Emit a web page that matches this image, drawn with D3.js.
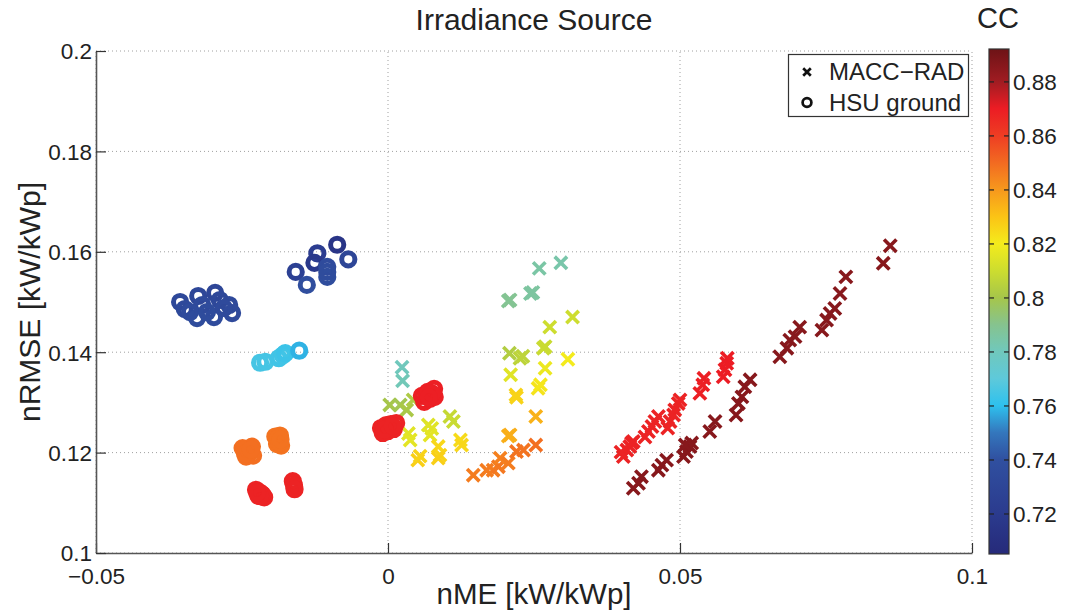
<!DOCTYPE html>
<html>
<head>
<meta charset="utf-8">
<script src="https://cdn.jsdelivr.net/npm/d3@7"></script>
<style>
  body { margin: 0; background: #fff; }
  svg { display: block; font-family: "Liberation Sans", Arial, sans-serif; }
</style>
</head>
<body>
<svg id="chart" width="1067" height="616"></svg>
<script>
// MACC-RAD (crosses): nME, nRMSE, correlation coefficient
const macX = [0.0024,0.0025,0.0259,0.0296,0.0244,0.0248,0.0206,0.0209,
  0.0003,0.0021,0.0032,0.0043,0.0208,0.0226,0.0231,0.0266,0.0269,0.0277,0.0316,0.0106,0.0112,
  0.0035,0.0038,0.0069,0.0075,0.0072,0.0210,0.0269,0.0308,0.0257,0.0261,
  0.0051,0.0055,0.0086,0.0089,0.0086,0.0124,0.0126,0.0219,0.0220,
  0.0253,0.0206,0.0209,
  0.0146,0.0169,0.0180,0.0189,0.0192,0.0206,0.0220,0.0232,0.0253,
  0.0409,0.0414,0.0403,0.0417,0.0420,0.0399,
  0.0446,0.0452,0.0457,0.0463,0.0440,
  0.0483,0.0489,0.0491,0.0497,0.0500,0.0479,
  0.0534,0.0539,0.0541,
  0.0574,0.0577,0.0580,0.0581,
  0.0420,0.0429,0.0434,0.0463,0.0469,0.0477,
  0.0506,0.0511,0.0517,0.0520,0.0509,0.0551,0.0560,
  0.0596,0.0600,0.0606,0.0611,0.0620,
  0.0671,0.0683,0.0688,0.0697,0.0705,
  0.0743,0.0751,0.0757,0.0765,0.0774,0.0784,
  0.0848,0.0860];
const macY = [0.1370,0.1343,0.1567,0.1578,0.1517,0.1519,0.1502,0.1504,
  0.1295,0.1295,0.1285,0.1305,0.1398,0.1388,0.1392,0.1408,0.1411,0.1450,0.1470,0.1272,0.1262,
  0.1238,0.1225,0.1255,0.1248,0.1235,0.1355,0.1368,0.1386,0.1328,0.1335,
  0.1185,0.1193,0.1212,0.1195,0.1189,0.1225,0.1215,0.1315,0.1310,
  0.1272,0.1233,0.1235,
  0.1155,0.1165,0.1165,0.1172,0.1189,0.1179,0.1202,0.1205,0.1215,
  0.1205,0.1212,0.1192,0.1219,0.1222,0.1201,
  0.1242,0.1252,0.1262,0.1272,0.1231,
  0.1262,0.1275,0.1285,0.1298,0.1305,0.1249,
  0.1318,0.1335,0.1348,
  0.1351,0.1365,0.1378,0.1388,
  0.1129,0.1139,0.1152,0.1165,0.1175,0.1185,
  0.1192,0.1202,0.1212,0.1219,0.1215,0.1242,0.1262,
  0.1275,0.1298,0.1311,0.1331,0.1345,
  0.1391,0.1408,0.1424,0.1431,0.1450,
  0.1444,0.1464,0.1477,0.1487,0.1517,0.1550,
  0.1577,0.1612];
const macCC = [0.780,0.781,0.785,0.784,0.786,0.786,0.789,0.789,
  0.800,0.799,0.801,0.802,0.803,0.806,0.806,0.809,0.809,0.810,0.810,0.808,0.809,
  0.815,0.816,0.814,0.815,0.816,0.815,0.818,0.820,0.822,0.821,
  0.827,0.826,0.825,0.826,0.827,0.824,0.825,0.826,0.826,
  0.834,0.835,0.835,
  0.846,0.846,0.846,0.847,0.845,0.846,0.848,0.848,0.849,
  0.868,0.868,0.868,0.868,0.868,0.868,
  0.868,0.868,0.868,0.868,0.868,
  0.868,0.868,0.868,0.868,0.868,0.868,
  0.869,0.869,0.869,
  0.870,0.870,0.870,0.870,
  0.886,0.886,0.886,0.886,0.886,0.886,
  0.886,0.886,0.886,0.886,0.886,0.886,0.886,
  0.886,0.886,0.886,0.886,0.886,
  0.886,0.886,0.886,0.886,0.886,
  0.886,0.886,0.886,0.886,0.886,0.886,
  0.886,0.886];

// HSU ground (circles)
const hsuX = [-0.0356,-0.0348,-0.0325,-0.0296,-0.0318,-0.0327,-0.0298,-0.0272,-0.0267,-0.0288,-0.0339,-0.0310,-0.0281,
  -0.0158,-0.0139,-0.0121,-0.0126,-0.0104,-0.0104,-0.0104,-0.0087,-0.0068,
  -0.0219,-0.0210,-0.0187,-0.0180,-0.0176,-0.0152,
  -0.0249,-0.0236,-0.0231,-0.0243,-0.0233,-0.0240,-0.0246,-0.0238,-0.0245,-0.0235,
  -0.0193,-0.0187,-0.0183,-0.0190,-0.0185,-0.0188,-0.0186,-0.0184,
  -0.0226,-0.0217,-0.0212,-0.0222,-0.0220,-0.0215,-0.0219,-0.0224,
  -0.0163,-0.0161,-0.0160,
  -0.0012,-0.0003,0.0005,0.0014,-0.0009,0.0000,0.0010,0.0002,-0.0006,0.0008,
  0.0058,0.0068,0.0079,0.0062,0.0072,0.0080,0.0066,0.0075,0.0070];
const hsuY = [0.1500,0.1486,0.1512,0.1518,0.1494,0.1468,0.1470,0.1494,0.1478,0.1504,0.1480,0.1480,0.1488,
  0.1560,0.1534,0.1597,0.1578,0.1570,0.1550,0.1560,0.1614,0.1585,
  0.1379,0.1381,0.1388,0.1394,0.1398,0.1403,
  0.1209,0.1201,0.1194,0.1192,0.1212,0.1203,0.1205,0.1199,0.1198,0.1206,
  0.1232,0.1223,0.1214,0.1217,0.1234,0.1228,0.1220,0.1226,
  0.1126,0.1118,0.1111,0.1114,0.1121,0.1116,0.1113,0.1120,
  0.1143,0.1135,0.1127,
  0.1249,0.1255,0.1257,0.1259,0.1239,0.1243,0.1247,0.1251,0.1246,0.1253,
  0.1313,0.1321,0.1327,0.1301,0.1307,0.1311,0.1315,0.1318,0.1310];
const hsuCC = [0.732,0.733,0.731,0.730,0.734,0.736,0.735,0.733,0.734,0.732,0.735,0.736,0.734,
  0.725,0.738,0.722,0.718,0.735,0.737,0.736,0.715,0.730,
  0.765,0.765,0.764,0.764,0.763,0.758,
  0.849,0.849,0.849,0.849,0.849,0.849,0.849,0.849,0.849,0.849,
  0.848,0.848,0.848,0.848,0.848,0.848,0.848,0.848,
  0.868,0.868,0.868,0.868,0.868,0.868,0.868,0.868,
  0.868,0.868,0.868,
  0.868,0.868,0.868,0.868,0.868,0.868,0.868,0.868,0.868,0.868,
  0.869,0.869,0.869,0.869,0.869,0.869,0.869,0.869,0.869];

const xTicks = [-0.05, 0, 0.05, 0.1];
const xTickLabels = ["\u22120.05", "0", "0.05", "0.1"];
const yTicks = [0.1, 0.12, 0.14, 0.16, 0.18, 0.2];
const yTickLabels = ["0.1", "0.12", "0.14", "0.16", "0.18", "0.2"];
const ccTicks = [0.72, 0.74, 0.76, 0.78, 0.8, 0.82, 0.84, 0.86, 0.88];
const ccTickLabels = ["0.72", "0.74", "0.76", "0.78", "0.8", "0.82", "0.84", "0.86", "0.88"];
const ccRange = [0.705, 0.892];

// colormap stops
const cmapStops = [0.705,0.72,0.74,0.75,0.76,0.77,0.78,0.79,0.80,0.81,0.82,0.83,0.84,0.85,0.86,0.87,0.88,0.892];
const cmapColors = ["#262a7a","#2b3b8e","#3050a0","#3477bd","#2ec1ee","#5ec9da","#70c8bc","#86c38e","#a6c64a",
  "#cddd2f","#f4eb1c","#fbc315","#f7981d","#f26a21","#ee3d23","#ec1c24","#a01c22","#6d1316"];

const svg = d3.select("#chart");
const x = d3.scaleLinear().domain([-0.05, 0.1]).range([96, 972]);
const y = d3.scaleLinear().domain([0.1, 0.2]).range([553, 51]);
const color = d3.scaleLinear().domain(cmapStops).range(cmapColors).clamp(true);
const tickFont = 22.5;

// grid
const grid = svg.append("g").attr("stroke", "#a0a0a0").attr("stroke-width", 1).attr("stroke-dasharray", "1,3");
xTicks.forEach(t => grid.append("line").attr("x1", x(t)).attr("x2", x(t)).attr("y1", y(0.1)).attr("y2", y(0.2)));
yTicks.forEach(t => grid.append("line").attr("x1", x(-0.05)).attr("x2", x(0.1)).attr("y1", y(t)).attr("y2", y(t)));

// axes
const xAxis = d3.axisBottom(x).tickValues(xTicks).tickFormat((d, i) => xTickLabels[i]).tickSizeInner(-10).tickSizeOuter(0).tickPadding(15);
const yAxis = d3.axisLeft(y).tickValues(yTicks).tickFormat((d, i) => yTickLabels[i]).tickSizeInner(-10).tickSizeOuter(0).tickPadding(4);
const gx = svg.append("g").attr("transform", `translate(0,${y(0.1)})`).call(xAxis);
const gy = svg.append("g").attr("transform", `translate(${x(-0.05)},0)`).call(yAxis);
[gx, gy].forEach(g => {
  g.select(".domain").attr("stroke", "#555").attr("stroke-width", 1.6);
  g.selectAll(".tick line").attr("stroke", "#333").attr("stroke-width", 1.2);
  g.selectAll(".tick text").attr("fill", "#222").attr("font-size", tickFont).attr("font-family", "Liberation Sans, Arial, sans-serif");
});
gy.selectAll(".tick text").attr("dy", "0.35em");

// markers: crosses first, circles on top
const macData = macX.map((v, i) => ({x: v, y: macY[i], cc: macCC[i]}));
const hsuData = hsuX.map((v, i) => ({x: v, y: hsuY[i], cc: hsuCC[i]}));
const ch = 6.2;
svg.append("g").selectAll("path").data(macData).join("path")
  .attr("d", `M${-ch},${-ch}L${ch},${ch}M${-ch},${ch}L${ch},${-ch}`)
  .attr("transform", d => `translate(${x(d.x)},${y(d.y)})`)
  .attr("fill", "none").attr("stroke", d => color(d.cc)).attr("stroke-width", 3.6);
svg.append("g").selectAll("circle").data(hsuData).join("circle")
  .attr("cx", d => x(d.x)).attr("cy", d => y(d.y)).attr("r", 6.6)
  .attr("fill", "none").attr("stroke", d => color(d.cc)).attr("stroke-width", 5);

// title and labels
svg.append("text").attr("x", 534).attr("y", 30).attr("text-anchor", "middle").attr("font-size", 30).attr("fill", "#222").text("Irradiance Source");
svg.append("text").attr("x", 534).attr("y", 604).attr("text-anchor", "middle").attr("font-size", 29.5).attr("fill", "#222").text("nME [kW/kWp]");
svg.append("text").attr("transform", "translate(40,302) rotate(-90)").attr("text-anchor", "middle").attr("font-size", 30).attr("fill", "#222").text("nRMSE [kW/kWp]");

// legend
const lg = svg.append("g");
lg.append("rect").attr("x", 788.5).attr("y", 54.5).attr("width", 180).attr("height", 62).attr("fill", "#fff").attr("stroke", "#333").attr("stroke-width", 1.2);
const lc = 3.8;
lg.append("path").attr("d", `M${807-lc},${72-lc}L${807+lc},${72+lc}M${807-lc},${72+lc}L${807+lc},${72-lc}`).attr("stroke", "#111").attr("stroke-width", 2.7).attr("fill", "none");
lg.append("circle").attr("cx", 807).attr("cy", 102.5).attr("r", 4.4).attr("fill", "none").attr("stroke", "#111").attr("stroke-width", 2.7);
lg.append("text").attr("x", 829).attr("y", 72).attr("dy", "0.35em").attr("font-size", 24).attr("fill", "#222").text("MACC\u2212RAD");
lg.append("text").attr("x", 829).attr("y", 102.5).attr("dy", "0.35em").attr("font-size", 24).attr("fill", "#222").text("HSU ground");

// colorbar
const cb = d3.scaleLinear().domain(ccRange).range([554, 49]);
const defs = svg.append("defs");
const grad = defs.append("linearGradient").attr("id", "ccgrad").attr("x1", 0).attr("x2", 0).attr("y1", 1).attr("y2", 0);
cmapStops.forEach((s, i) => grad.append("stop")
  .attr("offset", (s - ccRange[0]) / (ccRange[1] - ccRange[0]))
  .attr("stop-color", cmapColors[i]));
const cbX = 989, cbW = 20;
svg.append("rect").attr("x", cbX).attr("y", cb(ccRange[1])).attr("width", cbW).attr("height", cb(ccRange[0]) - cb(ccRange[1]))
  .attr("fill", "url(#ccgrad)").attr("stroke", "#333").attr("stroke-width", 1.2);
const cbAxis = d3.axisRight(cb).tickValues(ccTicks).tickFormat((d, i) => ccTickLabels[i]).tickSizeInner(-5).tickSizeOuter(0).tickPadding(4);
const gcb = svg.append("g").attr("transform", `translate(${cbX + cbW},0)`).call(cbAxis);
gcb.select(".domain").remove();
gcb.selectAll(".tick line").attr("stroke", "#222").attr("stroke-width", 1.2);
gcb.selectAll(".tick text").attr("fill", "#222").attr("font-size", tickFont).attr("font-family", "Liberation Sans, Arial, sans-serif").attr("dy", "0.35em");
gcb.selectAll(".tick").append("line").attr("x1", -cbW).attr("x2", -cbW + 5).attr("stroke", "#222").attr("stroke-width", 1.2);
svg.append("text").attr("x", 998).attr("y", 28).attr("text-anchor", "middle").attr("font-size", 29).attr("fill", "#222").text("CC");
</script>
</body>
</html>
